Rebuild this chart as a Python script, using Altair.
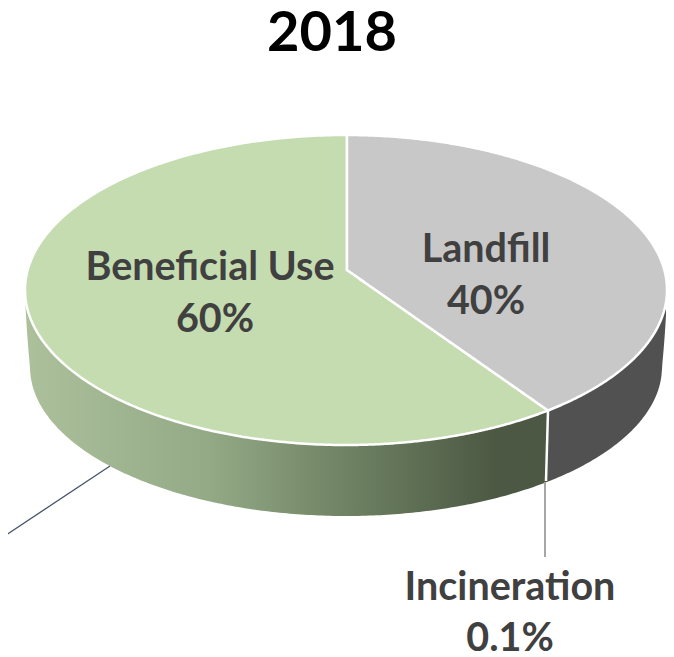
import math
import altair as alt
import pandas as pd

# values
categories = ["Beneficial Use", "Landfill", "Incineration"]
shares = [60.0, 39.9, 0.1]
share_labels = ["60%", "40%", "0.1%"]
title_text = "2018"

# page geometry of the tilted pie
CX, CY, A, B = 346.0, 290.0, 321.0, 155.0      # top ellipse
HX, HY = 347.0, 270.0                           # projected pie centre
BA, BB, BCY = 316.0, 149.0, 367.0               # bottom edge ellipse
TILT_SHIFT = 3.0                                # degrees of perspective shift


def top_upper(x):
    return CY - B * math.sqrt(max(0.0, 1 - ((x - CX) / A) ** 2))


def top_lower(x):
    return CY + B * math.sqrt(max(0.0, 1 - ((x - CX) / A) ** 2))


def wall_lower(x):
    d = abs(x - CX)
    if d <= BA:
        return BCY + BB * math.sqrt(max(0.0, 1 - (d / BA) ** 2))
    return top_lower(x) + (BCY - top_lower(x)) * (A - d) / (A - BA)


landfill_deg = (shares[1] + shares[2]) / sum(shares) * 360 - TILT_SHIFT
edge_x = CX + A * math.sin(math.radians(landfill_deg))
edge_y = CY - B * math.cos(math.radians(landfill_deg))


def spoke(x):
    return HY + (edge_y - HY) * (x - HX) / (edge_x - HX)


def xs_between(x0, x1, n=120):
    out = []
    a0 = math.acos(max(-1, min(1, (x0 - CX) / A)))
    a1 = math.acos(max(-1, min(1, (x1 - CX) / A)))
    for i in range(n + 1):
        out.append(CX + A * math.cos(a0 + (a1 - a0) * i / n))
    return out


left_x = CX - A
right_x = CX + A

green = []
for x in xs_between(left_x, HX):
    green.append((x, top_upper(x), top_lower(x)))
for x in xs_between(HX, edge_x):
    green.append((x, spoke(x), top_lower(x)))

grey = []
for x in xs_between(HX, edge_x):
    grey.append((x, top_upper(x), spoke(x)))
for x in xs_between(edge_x, right_x):
    grey.append((x, top_upper(x), top_lower(x)))

wall_green = [(x, top_lower(x), wall_lower(x)) for x in xs_between(left_x, edge_x, 200)]
wall_grey = [(x, top_lower(x), wall_lower(x)) for x in xs_between(edge_x, right_x, 100)]


def frame(rows):
    return pd.DataFrame(
        [{"x": r[0], "y": r[1], "yb": r[2], "seq": i} for i, r in enumerate(rows)]
    )


X = alt.X("x:Q", axis=None, scale=alt.Scale(domain=[8, 666], nice=False, zero=False))
Y = alt.Y("y:Q", axis=None, stack=None, scale=alt.Scale(domain=[657, 8], nice=False, zero=False))


def area(rows, **mark):
    return (
        alt.Chart(frame(rows))
        .mark_area(interpolate="linear", orient="vertical", opacity=1, **mark)
        .encode(x=X, y=Y, y2=alt.Y2("yb"))
    )


wall_gradient = alt.Gradient(
    gradient="linear",
    x1=0, x2=1, y1=0, y2=0,
    stops=[
        alt.GradientStop(offset=0.0, color="#abc09b"),
        alt.GradientStop(offset=0.35, color="#94aa86"),
        alt.GradientStop(offset=0.65, color="#6a7d5f"),
        alt.GradientStop(offset=0.9, color="#4c5843"),
        alt.GradientStop(offset=1.0, color="#4c5843"),
    ],
)

layers = [
    area(wall_green, fill=wall_gradient),
    area(wall_grey, fill="#515151"),
    area(green, fill="#c5dcb0", stroke="white", strokeWidth=2.5),
    area(grey, fill="#c8c8c8", stroke="white", strokeWidth=2.5),
]


def line(points, **mark):
    df = pd.DataFrame([{"x": p[0], "y": p[1], "seq": i} for i, p in enumerate(points)])
    return alt.Chart(df).mark_line(**mark).encode(x=X, y=Y, order="seq:Q")


layers += [
    line([(edge_x, edge_y), (546, 481)], color="white", strokeWidth=2.5),
    line([(545, 482), (545, 557)], color="#a6a6a6", strokeWidth=2),
    line([(110, 466), (0, 539)], color="#44546a", strokeWidth=1.3),
]

labels = pd.DataFrame(
    [
        {"x": 210, "y": 268, "t": categories[0]},
        {"x": 215, "y": 320, "t": share_labels[0]},
        {"x": 486, "y": 250, "t": categories[1]},
        {"x": 486, "y": 302, "t": share_labels[1]},
        {"x": 510, "y": 588, "t": categories[2]},
        {"x": 510, "y": 639, "t": share_labels[2]},
    ]
)
layers.append(
    alt.Chart(labels)
    .mark_text(font="Lato", fontWeight="bold", fontSize=39.5, color="#404040", align="center", baseline="middle")
    .encode(x=X, y=Y, text="t:N")
)
layers.append(
    alt.Chart(pd.DataFrame([{"x": 332, "y": 34, "t": title_text}]))
    .mark_text(font="Lato", fontWeight="bold", fontSize=56, color="#000000", align="center", baseline="middle")
    .encode(x=X, y=Y, text="t:N")
)

chart = (
    alt.layer(*layers)
    .properties(width=658, height=649, padding=0, autosize=alt.AutoSizeParams(type="none"))
    .configure_view(stroke=None)
)
chart.save("out.html", embed_options={"renderer": "svg", "actions": False})
